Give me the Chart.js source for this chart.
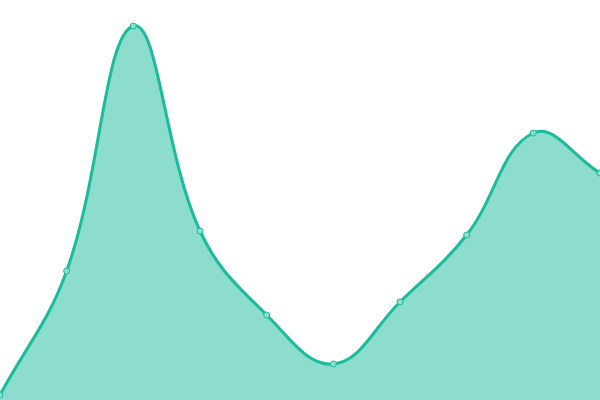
<!DOCTYPE html>
<html><head><meta charset="utf-8">
<script src="https://cdn.jsdelivr.net/npm/chart.js@4"></script>
<style>html,body{margin:0;padding:0;background:#fff}#w{width:600px;height:400px}</style>
</head><body><div id="w"><canvas id="c"></canvas></div>
<script>
const labels = ['1','2','3','4','5','6','7','8','9','10'];
const values = [5, 129, 374, 169, 85, 36, 98, 165, 267, 227];
new Chart(document.getElementById('c'), {
  type: 'line',
  data: { labels: labels, datasets: [{
    data: values,
    borderColor: '#1abc9c',
    backgroundColor: 'rgba(26,188,156,0.5)',
    borderWidth: 3,
    fill: 'origin',
    tension: 0.4,
    pointRadius: 3,
    pointBorderWidth: 1,
    pointBackgroundColor: '#8ce0cf',
    pointBorderColor: '#1abc9c'
  }]},
  options: {
    responsive: true, maintainAspectRatio: false, animation: false,
    layout: { padding: 0, autoPadding: false },
    plugins: { legend: { display: false }, tooltip: { enabled: false } },
    scales: {
      x: { display: false, offset: false },
      y: { display: false, min: 0, max: 400 }
    }
  }
});
</script></body></html>
